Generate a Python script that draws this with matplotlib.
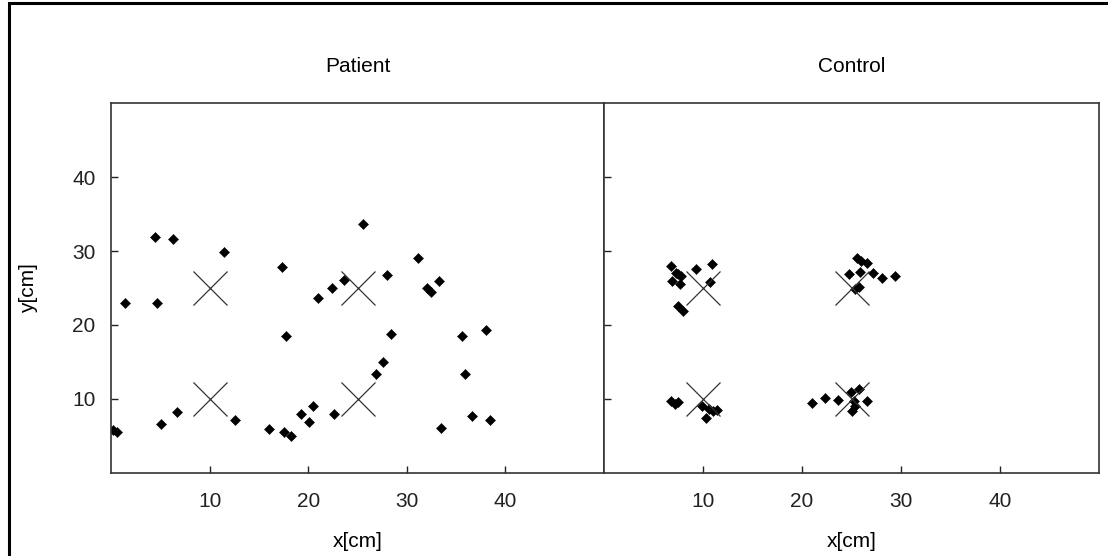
import matplotlib
matplotlib.use("Agg")
import matplotlib.pyplot as plt
from matplotlib.patches import Rectangle

plt.rcParams['font.family'] = ['Liberation Sans', 'DejaVu Sans']

# target centres (the big X marks), same for both panels
target_x = [10, 25, 10, 25]
target_y = [25, 25, 10, 10]

# patient hits
patient_x = [1.4, 4.5, 4.7, 6.3, 11.5, 17.3, 21.0, 22.4, 23.6, 25.6, 28.0, 31.1,
             32.0, 32.5, 33.3, 17.7, 0.2, 0.6, 5.1, 6.7, 12.6, 16.0, 17.5, 18.3,
             19.3, 20.1, 20.5, 22.6, 28.4, 27.6, 26.9, 35.6, 38.0, 35.9, 33.5,
             36.6, 38.4]
patient_y = [23.0, 31.9, 23.0, 31.6, 29.8, 27.9, 23.6, 25.0, 26.1, 33.6, 26.8, 29.0,
             25.0, 24.4, 26.0, 18.5, 5.8, 5.5, 6.6, 8.2, 7.2, 5.9, 5.5, 5.0,
             8.0, 6.9, 9.0, 8.0, 18.75, 15.0, 13.4, 18.5, 19.3, 13.4, 6.1,
             7.7, 7.2]

# control hits
control_x = [6.8, 7.5, 7.8, 6.9, 7.7, 7.3, 9.3, 10.9, 10.7, 7.5, 8.0,
             25.6, 26.6, 26.0, 24.7, 25.9, 27.2, 28.05, 29.4, 25.4, 25.8,
             6.8, 7.5, 7.2, 9.85, 10.6, 11.4, 10.3, 11.0,
             21.0, 22.3, 23.65, 24.9, 25.75, 26.6, 25.25, 25.1, 25.4]
control_y = [27.95, 26.9, 26.6, 26.0, 25.5, 27.0, 27.6, 28.2, 25.8, 22.55, 21.9,
             29.1, 28.4, 28.7, 26.9, 27.2, 27.0, 26.3, 26.6, 24.9, 25.2,
             9.7, 9.6, 9.3, 9.0, 8.7, 8.5, 7.5, 8.4,
             9.4, 10.2, 9.9, 11.0, 11.3, 9.7, 9.7, 8.4, 9.0]

ticks = [10, 20, 30, 40]

fig = plt.figure(figsize=(11.08, 5.56), dpi=100)
ax1 = fig.add_axes([111 / 1108, 83 / 556, 493 / 1108, 370 / 556])
ax2 = fig.add_axes([604 / 1108, 83 / 556, 495 / 1108, 370 / 556])

# outer frame (only top and left edges visible in the original)
fig.patches.append(Rectangle((9 / 1108, -0.1), 1.2, (553 / 556) + 0.1,
                             transform=fig.transFigure, fill=False,
                             edgecolor='black', linewidth=2.2, clip_on=False))

panels = [(ax1, 'Patient', patient_x, patient_y), (ax2, 'Control', control_x, control_y)]
for ax, name, xs, ys in panels:
    ax.plot(xs, ys, 'D', color='black', markersize=5, markeredgewidth=0.4)
    ax.plot(target_x, target_y, 'x', color='#333333', markersize=24, markeredgewidth=0.9)
    ax.set_xlim(0, 50)
    ax.set_ylim(0, 50)
    ax.set_xticks(ticks)
    ax.set_yticks(ticks)
    ax.tick_params(direction='in', length=5, width=1, labelsize=15, pad=14, colors='#222222')
    for s in ax.spines.values():
        s.set_color('#333333')
        s.set_linewidth(1.2)
    ax.set_title(name, fontsize=15, pad=22)
    ax.set_xlabel('x[cm]', fontsize=15, labelpad=15)

ax1.set_ylabel('y[cm]', fontsize=15, labelpad=25)
ax1.tick_params(axis='y', pad=11)
ax2.tick_params(axis='y', labelleft=False)

fig.savefig('out.png', dpi=100)
